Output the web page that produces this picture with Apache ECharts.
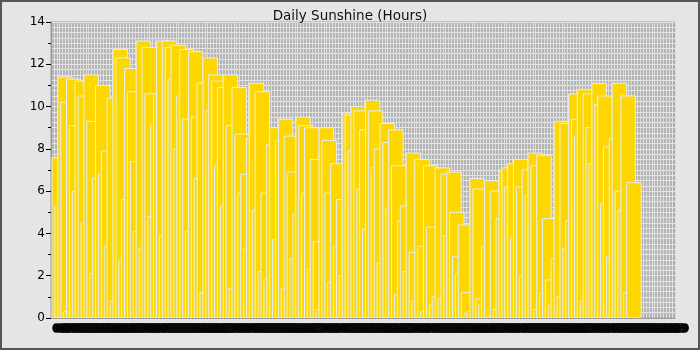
<!DOCTYPE html>
<html><head><meta charset="utf-8">
<script src="https://cdn.jsdelivr.net/npm/echarts@6/dist/echarts.min.js"></script>
<style>
html,body{margin:0;padding:0;background:#e5e5e5;}
#c{width:700px;height:350px;box-sizing:border-box;border:2px solid #555;}
</style></head>
<body><div id="c"></div>
<script>
const title = 'Daily Sunshine (Hours)';
const sunshine = [
7.6,5.3,11.4,10.2,0.3,11.3,9.1,6.0,11.2,10.5,4.5,11.5,9.3,2.1,6.6,11.0,6.8,7.9,3.4,10.4,
0.8,12.7,12.3,2.7,5.6,11.8,10.7,7.4,4.1,13.1,3.3,12.8,10.6,4.8,9.1,10.6,13.1,3.9,13.1,12.8,
11.3,12.9,8.0,10.5,12.7,9.4,4.1,12.6,9.5,6.6,11.1,1.2,12.3,9.8,11.5,11.2,7.2,10.9,5.3,11.5,
9.1,1.4,10.9,8.7,5.9,6.8,3.3,8.5,11.1,5.1,10.7,2.2,5.9,1.8,8.2,9.0,3.7,8.4,9.4,1.4,
8.6,6.9,2.8,4.9,9.5,9.1,5.9,9.0,2.3,7.5,3.6,0.4,9.0,8.4,5.9,1.7,7.3,3.4,5.6,2.0,
9.7,9.6,7.9,10.0,9.8,6.1,8.9,4.2,10.3,9.8,7.1,8.0,2.6,9.2,8.3,5.2,8.9,7.2,1.1,4.6,
5.3,2.2,7.8,3.1,0.8,7.5,3.4,0.3,7.2,4.3,0.6,1.0,7.1,0.9,6.8,3.9,6.9,5.0,2.9,2.1,
4.4,1.2,0.2,0.3,6.6,6.1,0.9,0.6,3.4,6.5,0.1,6.0,0.4,4.7,7.0,7.1,6.2,7.3,3.8,7.5,
6.2,2.0,7.0,5.8,7.8,7.2,0.4,7.7,1.2,4.7,1.8,0.6,2.8,9.3,1.0,9.2,3.3,4.6,10.6,9.4,
8.6,10.8,0.8,10.6,9.0,7.3,11.1,10.1,10.5,5.4,8.1,2.9,8.5,11.1,6.0,5.1,10.5,1.2,6.4
];
const categoryCount = 215;
const dayLabels = [];
for (let d = 0; d < categoryCount; d++) dayLabels.push(String((d % 31) + 1).padStart(2, '0'));
const yTicks = [0, 2, 4, 6, 8, 10, 12, 14];

const BAR_SPAN = 5; // bar width in category bands
const chart = echarts.init(document.getElementById('c'), null, {renderer: 'canvas'});
chart.setOption({
  animation: false,
  backgroundColor: '#e5e5e5',
  title: {text: title, left: 'center', top: 2,
    textStyle: {fontFamily: 'DejaVu Sans', fontSize: 13.5, fontWeight: 'normal', color: '#111'}},
  grid: {left: 49, right: 23, top: 20, bottom: 30, show: true, backgroundColor: '#b4b4b4',
    borderColor: '#9a9a9a', borderWidth: 1},
  xAxis: {type: 'category', data: dayLabels, boundaryGap: true,
    axisLine: {show: true, lineStyle: {color: '#9a9a9a'}},
    axisTick: {show: false},
    axisLabel: {interval: 0, fontFamily: 'DejaVu Sans', fontSize: 11, color: '#000', margin: 6,
      fontWeight: 'bold', align: 'left', textBorderColor: '#111', textBorderWidth: 1.5},
    splitLine: {show: true, interval: 0, lineStyle: {color: '#dedede', width: 1}}},
  yAxis: [{type: 'value', min: yTicks[0], max: yTicks[yTicks.length-1], interval: 2,
    axisLine: {show: true, lineStyle: {color: '#9a9a9a'}},
    axisTick: {show: true, length: 5, lineStyle: {color: '#000'}},
    minorTick: {show: true, splitNumber: 2, length: 3, lineStyle: {color: '#000'}},
    axisLabel: {fontFamily: 'DejaVu Sans', fontSize: 12, color: '#000', margin: 6},
    splitLine: {show: true, lineStyle: {color: '#e4e4e4'}}},
   {type: 'value', min: 0, max: 14, interval: 0.25, position: 'left',
    axisLine: {show: false}, axisTick: {show: false}, axisLabel: {show: false},
    splitLine: {show: true, lineStyle: {color: '#e4e4e4', width: 1}}}],
  series: [{
    type: 'custom', clip: true,
    data: sunshine.map((v, i) => [i, v]),
    encode: {x: 0, y: 1},
    renderItem: function (params, api) {
      const i = api.value(0), v = api.value(1);
      const base = api.coord([i, 0]);
      const top = api.coord([i, v]);
      const band = api.size([1, 0])[0];
      const x = base[0] - band / 2 + 1;
      return {type: 'rect',
        shape: {x: x, y: top[1], width: band * BAR_SPAN, height: base[1] - top[1]},
        style: {fill: '#FFD700', stroke: '#e6edf5', lineWidth: 1}};
    }
  }]
});
</script></body></html>
